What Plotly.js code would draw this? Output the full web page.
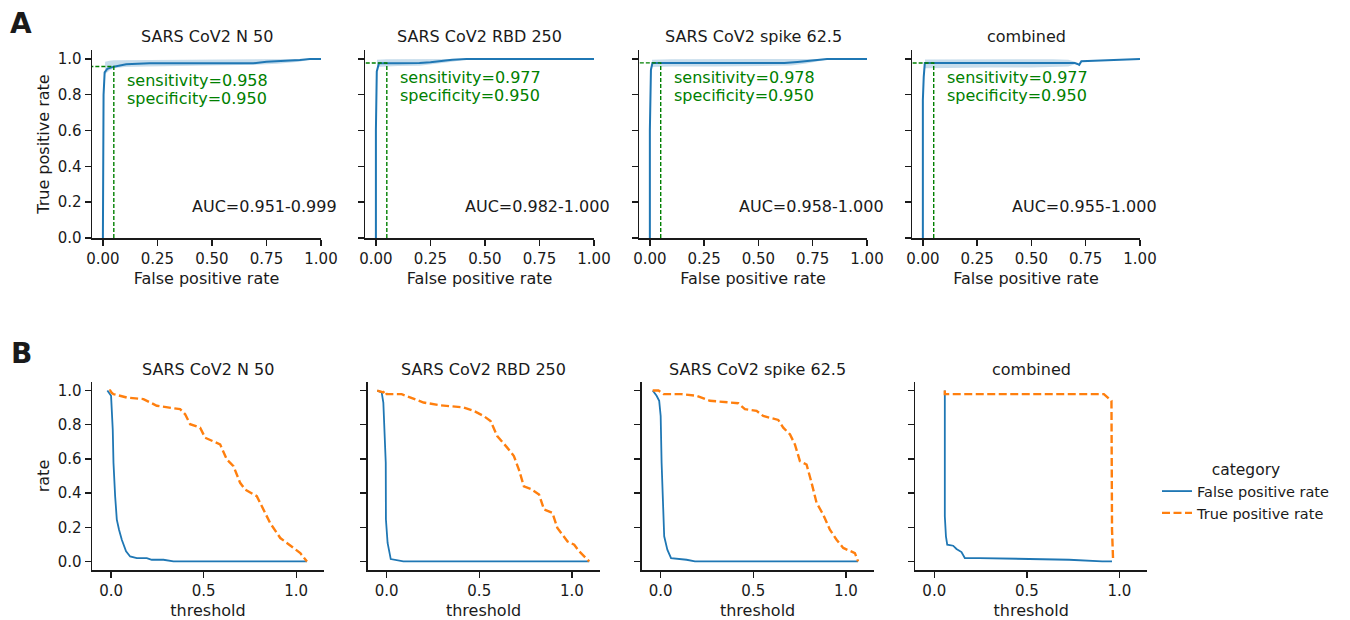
<!DOCTYPE html>
<html><head><meta charset="utf-8">
<script src="https://cdn.plot.ly/plotly-3.0.1.min.js"></script>
<style>html,body{margin:0;padding:0;background:#fff}#chart{width:1350px;height:620px}</style>
</head><body><div id="chart"></div>
<script>
// ---------------- DATA ----------------
const panelTitles = ["SARS CoV2 N 50", "SARS CoV2 RBD 250", "SARS CoV2 spike 62.5", "combined"];
const sensitivity = [0.958, 0.977, 0.978, 0.977];
const specificity = [0.950, 0.950, 0.950, 0.950];
const aucLow = [0.951, 0.982, 0.958, 0.955];
const aucHigh = [0.999, 1.000, 1.000, 1.000];
const rocTickLabels = ["0.00", "0.25", "0.50", "0.75", "1.00"];
const rocTickVals = [0, 0.25, 0.5, 0.75, 1.0];
const thrTickVals = [0, 0.5, 1.0];
const rateTickVals = [0, 0.2, 0.4, 0.6, 0.8, 1.0];
const seriesNames = ["False positive rate", "True positive rate"];

// ROC curves (panel A)
const rocN50_fpr = [0, 0, 0.003, 0.008, 0.02, 0.05, 0.107, 0.214, 0.4, 0.689, 0.75, 0.85, 0.903, 0.949, 1.0];
const rocN50_tpr = [0, 0.45, 0.8, 0.925, 0.945, 0.957, 0.970, 0.976, 0.976, 0.976, 0.985, 0.99, 0.994, 1.0, 1.0];
const bandN50_fpr = [0.01, 0.03, 0.05, 0.1, 0.2, 0.3, 0.5, 0.7, 0.8, 0.9, 0.95];
const bandN50_lo = [0.915, 0.935, 0.948, 0.955, 0.958, 0.96, 0.962, 0.967, 0.973, 0.985, 0.997];
const bandN50_hi = [0.985, 0.99, 0.993, 0.995, 0.997, 0.998, 0.998, 0.998, 0.999, 1.0, 1.0];

const rocRBD_fpr = [0, 0, 0.004, 0.014, 0.1, 0.2, 0.25, 0.3, 0.35, 0.416, 1.0];
const rocRBD_tpr = [0, 0.6, 0.93, 0.976, 0.976, 0.977, 0.982, 0.99, 0.996, 1.0, 1.0];
const bandRBD_fpr = [0.005, 0.05, 0.1, 0.2, 0.3, 0.35, 0.42];
const bandRBD_lo = [0.955, 0.958, 0.96, 0.962, 0.975, 0.985, 0.998];
const bandRBD_hi = [0.995, 0.998, 0.999, 1.0, 1.0, 1.0, 1.0];

const rocSpike_fpr = [0, 0, 0.005, 0.012, 0.2, 0.5, 0.62, 0.68, 0.75, 0.816, 1.0];
const rocSpike_tpr = [0, 0.6, 0.94, 0.977, 0.977, 0.976, 0.977, 0.983, 0.993, 1.0, 1.0];
const bandSpike_fpr = [0.01, 0.1, 0.3, 0.5, 0.65, 0.72, 0.78, 0.83];
const bandSpike_lo = [0.955, 0.958, 0.958, 0.96, 0.963, 0.975, 0.988, 0.999];
const bandSpike_hi = [0.995, 0.998, 0.999, 0.999, 1.0, 1.0, 1.0, 1.0];

const rocComb_fpr = [0, 0, 0.004, 0.009, 0.3, 0.6, 0.7, 0.712, 0.72, 0.73, 0.8, 0.9, 1.0];
const rocComb_tpr = [0, 0.77, 0.9, 0.977, 0.977, 0.977, 0.977, 0.972, 0.967, 0.987, 0.99, 0.994, 1.0];
const bandComb_fpr = [0.01, 0.1, 0.3, 0.5, 0.6, 0.65, 0.67, 0.7];
const bandComb_lo = [0.948, 0.95, 0.952, 0.952, 0.955, 0.96, 0.958, 0.97];
const bandComb_hi = [0.997, 0.998, 0.998, 0.998, 0.998, 0.997, 0.996, 0.985];

// Rate vs threshold curves (panel B)
const thrN50_fprT = [-0.02, 0.0, 0.009, 0.013, 0.022, 0.031, 0.043, 0.058, 0.081, 0.103, 0.139, 0.193, 0.22, 0.283, 0.337, 0.6, 1.058];
const thrN50_fprR = [1.0, 0.969, 0.773, 0.578, 0.382, 0.245, 0.186, 0.127, 0.059, 0.029, 0.02, 0.02, 0.01, 0.01, 0.0, 0.0, 0.0];
const thrN50_tprT = [-0.01, -0.005, 0.005, 0.013, 0.085, 0.175, 0.247, 0.319, 0.373, 0.4, 0.427, 0.481, 0.508, 0.589, 0.625, 0.661, 0.697, 0.724, 0.787, 0.805, 0.859, 0.914, 0.95, 0.985, 1.022, 1.058];
const thrN50_tprR = [1.0, 1.0, 0.985, 0.979, 0.959, 0.95, 0.911, 0.901, 0.891, 0.861, 0.803, 0.783, 0.724, 0.685, 0.597, 0.558, 0.46, 0.421, 0.382, 0.343, 0.225, 0.137, 0.108, 0.079, 0.049, 0.0];

const thrRBD_fprT = [-0.051, -0.027, -0.018, -0.013, -0.005, -0.004, 0.005, 0.022, 0.09, 1.094];
const thrRBD_fprR = [1.0, 0.989, 0.93, 0.793, 0.578, 0.245, 0.108, 0.014, 0.0, 0.0];
const thrRBD_tprT = [-0.051, -0.018, -0.01, 0.0, 0.081, 0.127, 0.199, 0.289, 0.416, 0.47, 0.524, 0.561, 0.597, 0.651, 0.687, 0.714, 0.741, 0.778, 0.823, 0.85, 0.895, 0.922, 0.977, 1.013, 1.04, 1.094];
const thrRBD_tprR = [1.0, 0.989, 1.0, 0.979, 0.979, 0.959, 0.93, 0.914, 0.901, 0.881, 0.851, 0.822, 0.734, 0.666, 0.617, 0.538, 0.44, 0.425, 0.392, 0.304, 0.284, 0.196, 0.117, 0.098, 0.059, 0.0];

const thrSpike_fprT = [-0.043, -0.022, -0.008, 0.0, 0.005, 0.011, 0.019, 0.036, 0.056, 0.14, 0.185, 1.066];
const thrSpike_fprR = [1.0, 0.969, 0.94, 0.851, 0.578, 0.323, 0.147, 0.069, 0.02, 0.01, 0.0, 0.0];
const thrSpike_tprT = [-0.043, -0.012, 0.016, 0.113, 0.194, 0.266, 0.419, 0.455, 0.518, 0.554, 0.635, 0.662, 0.698, 0.725, 0.752, 0.788, 0.815, 0.842, 0.878, 0.914, 0.95, 0.986, 1.049, 1.066];
const thrSpike_tprR = [1.0, 1.0, 0.979, 0.979, 0.969, 0.94, 0.926, 0.891, 0.881, 0.851, 0.828, 0.783, 0.744, 0.685, 0.587, 0.567, 0.46, 0.343, 0.274, 0.186, 0.127, 0.079, 0.049, 0.0];

const thrComb_fprT = [0.057, 0.057, 0.063, 0.07, 0.102, 0.12, 0.147, 0.165, 0.245, 0.728, 0.907, 0.96];
const thrComb_fprR = [1.0, 0.264, 0.147, 0.098, 0.092, 0.073, 0.055, 0.02, 0.02, 0.01, 0.0, 0.0];
const thrComb_tprT = [0.057, 0.057, 0.916, 0.943, 0.957, 0.96, 0.966];
const thrComb_tprR = [1.0, 0.979, 0.979, 0.95, 0.94, 0.186, 0.0];

// ---------------- BUILD ----------------
const rocSets = [
  [rocN50_fpr, rocN50_tpr, bandN50_fpr, bandN50_lo, bandN50_hi],
  [rocRBD_fpr, rocRBD_tpr, bandRBD_fpr, bandRBD_lo, bandRBD_hi],
  [rocSpike_fpr, rocSpike_tpr, bandSpike_fpr, bandSpike_lo, bandSpike_hi],
  [rocComb_fpr, rocComb_tpr, bandComb_fpr, bandComb_lo, bandComb_hi]
];
const thrSets = [
  [thrN50_fprT, thrN50_fprR, thrN50_tprT, thrN50_tprR],
  [thrRBD_fprT, thrRBD_fprR, thrRBD_tprT, thrRBD_tprR],
  [thrSpike_fprT, thrSpike_fprR, thrSpike_tprT, thrSpike_tprR],
  [thrComb_fprT, thrComb_fprR, thrComb_tprT, thrComb_tprR]
];

const W = 1350, H = 620;
const FONT = "DejaVu Sans, Verdana, sans-serif";
const INK = "#1a1a1a";
const BLUE = "#1f77b4", ORANGE = "#ff7f0e", GREEN = "#008000";
const topDom = [[92, 321], [365, 594], [639, 867], [912, 1140]];
const botDom = [[92, 324], [367.6, 599.6], [641.6, 873.6], [915.2, 1147.2]];
const topY = [1 - 238 / H, 1 - 50 / H];
const botY = [1 - 570 / H, 1 - 382 / H];
const rocRange = [-0.05, 1.0];
const thrRange = [-0.103, 1.15];

const traces = [];
const annotations = [];
const layout = {
  width: W, height: H,
  margin: {l: 0, r: 0, t: 0, b: 0},
  paper_bgcolor: "#fff", plot_bgcolor: "#fff",
  font: {family: FONT, color: INK},
  showlegend: true,
  legend: {
    x: 1157 / W, y: 1 - 455 / H, xanchor: "left", yanchor: "top",
    bgcolor: "rgba(0,0,0,0)", borderwidth: 0,
    font: {family: FONT, size: 14.5, color: INK},
    title: {text: "category", side: "top center", font: {family: FONT, size: 15.5, color: INK}},
    tracegroupgap: 0, itemwidth: 30
  },
  annotations: annotations
};

function baseAxis(extra) {
  return Object.assign({
    showgrid: false, zeroline: false, showline: true, linecolor: INK, linewidth: 1.5,
    ticks: "outside", ticklen: 6, tickwidth: 1.4, tickcolor: INK, mirror: false,
    tickfont: {family: FONT, size: 15, color: INK}, fixedrange: true
  }, extra);
}

for (let i = 0; i < 4; i++) {
  const s = i === 0 ? "" : String(i + 1);
  const b = String(i + 5);
  const [fpr, tpr, bf, blo, bhi] = rocSets[i];
  const cutFpr = +(1 - specificity[i]).toFixed(3);

  // CI band
  traces.push({
    x: bf.concat(bf.slice().reverse()), y: blo.concat(bhi.slice().reverse()),
    type: "scatter", mode: "lines", fill: "toself", fillcolor: "rgba(31,119,180,0.25)",
    line: {width: 0, color: "rgba(0,0,0,0)"}, hoverinfo: "skip", showlegend: false,
    xaxis: "x" + s, yaxis: "y" + s
  });
  // ROC line
  traces.push({
    x: fpr, y: tpr, type: "scatter", mode: "lines",
    line: {color: BLUE, width: 2}, showlegend: false, xaxis: "x" + s, yaxis: "y" + s
  });
  // cut-off guide lines
  traces.push({
    x: [cutFpr, cutFpr, rocRange[0]], y: [0, sensitivity[i], sensitivity[i]],
    type: "scatter", mode: "lines", line: {color: GREEN, width: 1.4, dash: "4px,2px"},
    showlegend: false, hoverinfo: "skip", xaxis: "x" + s, yaxis: "y" + s
  });

  // threshold panel
  const [ft, fr, tt, tr] = thrSets[i];
  traces.push({
    x: ft, y: fr, type: "scatter", mode: "lines", name: seriesNames[0], legendgroup: "fpr",
    line: {color: BLUE, width: 1.8}, showlegend: i === 0, xaxis: "x" + b, yaxis: "y" + b
  });
  traces.push({
    x: tt, y: tr, type: "scatter", mode: "lines", name: seriesNames[1], legendgroup: "tpr",
    line: {color: ORANGE, width: 2.4, dash: "8px,3.5px"}, showlegend: i === 0, xaxis: "x" + b, yaxis: "y" + b
  });

  // axes
  layout["xaxis" + s] = baseAxis({
    domain: [topDom[i][0] / W, topDom[i][1] / W], anchor: "y" + s, range: rocRange,
    tickvals: rocTickVals, ticktext: rocTickLabels,
    title: {text: "False positive rate", font: {family: FONT, size: 16, color: INK}, standoff: 6}
  });
  layout["yaxis" + s] = baseAxis({
    domain: topY, anchor: "x" + s, range: [0, 1.05],
    tickvals: rateTickVals, tickformat: ".1f", showticklabels: i === 0,
    title: i === 0 ? {text: "True positive rate", font: {family: FONT, size: 16, color: INK}, standoff: 4} : {text: ""}
  });
  layout["xaxis" + b] = baseAxis({
    domain: [botDom[i][0] / W, botDom[i][1] / W], anchor: "y" + b, range: thrRange,
    tickvals: thrTickVals, tickformat: ".1f",
    title: {text: "threshold", font: {family: FONT, size: 16, color: INK}, standoff: 6}
  });
  layout["yaxis" + b] = baseAxis({
    domain: botY, anchor: "x" + b, range: [-0.05, 1.05],
    tickvals: rateTickVals, tickformat: ".1f", showticklabels: i === 0,
    title: i === 0 ? {text: "rate", font: {family: FONT, size: 16, color: INK}, standoff: 4} : {text: ""}
  });

  // subplot titles
  annotations.push({
    text: panelTitles[i], xref: "paper", yref: "paper",
    x: (topDom[i][0] + topDom[i][1]) / 2 / W, y: 1 - 36.7 / H,
    xanchor: "center", yanchor: "middle", showarrow: false,
    font: {family: FONT, size: 16, color: INK}
  });
  annotations.push({
    text: panelTitles[i], xref: "paper", yref: "paper",
    x: (botDom[i][0] + botDom[i][1]) / 2 / W, y: 1 - 369.3 / H,
    xanchor: "center", yanchor: "middle", showarrow: false,
    font: {family: FONT, size: 16, color: INK}
  });
  // sensitivity / specificity text
  annotations.push({
    text: "sensitivity=" + sensitivity[i].toFixed(3), xref: "x" + s, yref: "y" + s,
    x: 0.1, y: sensitivity[i] - 0.08, xanchor: "left", yanchor: "middle", showarrow: false,
    font: {family: FONT, size: 16, color: GREEN}
  });
  annotations.push({
    text: "specificity=" + specificity[i].toFixed(3), xref: "x" + s, yref: "y" + s,
    x: 0.1, y: sensitivity[i] - 0.18, xanchor: "left", yanchor: "middle", showarrow: false,
    font: {family: FONT, size: 16, color: GREEN}
  });
  // AUC text
  annotations.push({
    text: "AUC=" + aucLow[i].toFixed(3) + "-" + aucHigh[i].toFixed(3), xref: "x" + s, yref: "y" + s,
    x: 0.4, y: 0.175, xanchor: "left", yanchor: "middle", showarrow: false,
    font: {family: FONT, size: 16, color: INK}
  });
}

// panel letters
annotations.push({text: "<b>A</b>", xref: "paper", yref: "paper", x: 21 / W, y: 1 - 23 / H,
  xanchor: "center", yanchor: "middle", showarrow: false, font: {family: FONT, size: 28, color: INK}});
annotations.push({text: "<b>B</b>", xref: "paper", yref: "paper", x: 21 / W, y: 1 - 353 / H,
  xanchor: "center", yanchor: "middle", showarrow: false, font: {family: FONT, size: 28, color: INK}});

Plotly.newPlot("chart", traces, layout, {displayModeBar: false, staticPlot: true});
</script>
</body></html>
